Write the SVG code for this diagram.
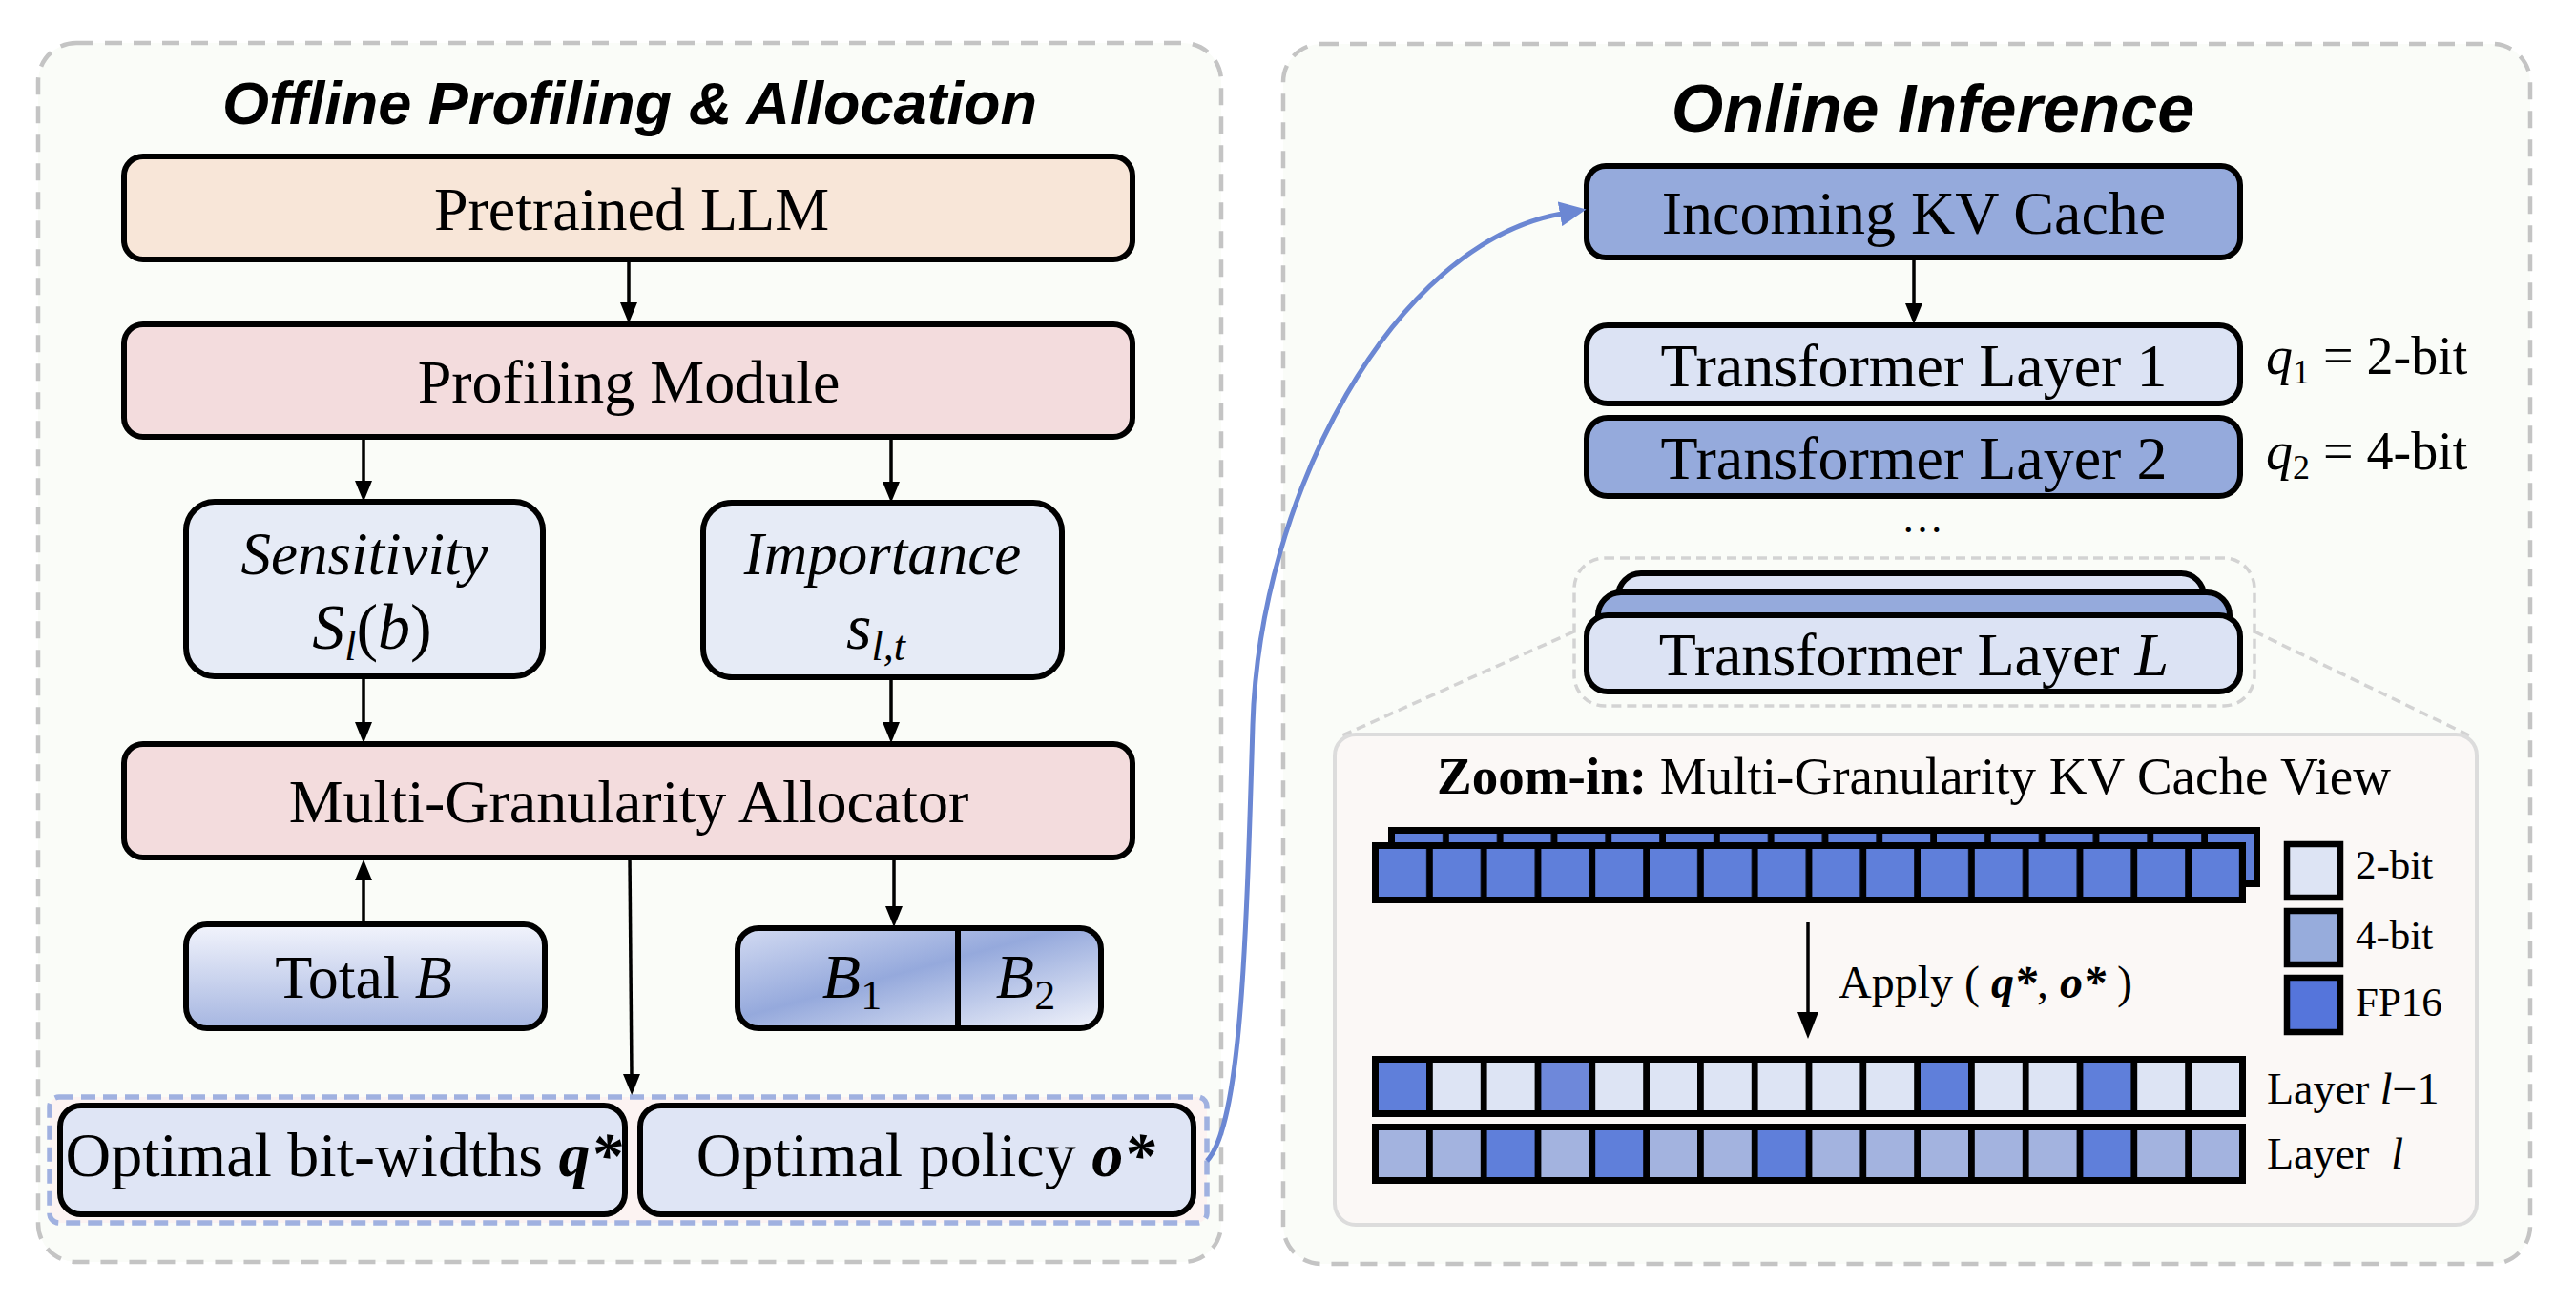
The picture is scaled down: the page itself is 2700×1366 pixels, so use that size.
<svg xmlns="http://www.w3.org/2000/svg" width="2700" height="1366" viewBox="0 0 2700 1366">
<style>
.panel{fill:#FAFCF8;stroke:#C4C4C4;stroke-width:4.5;stroke-dasharray:18 12}
.title{font-family:"Liberation Sans",Arial,sans-serif;font-weight:bold;font-style:italic;fill:#000;text-anchor:middle}
.box{stroke:#000;stroke-width:6}
.t{font-family:"Liberation Serif","Times New Roman",serif;fill:#000;text-anchor:middle}
.ts{font-family:"Liberation Serif","Times New Roman",serif;fill:#000}
.i{font-style:italic}
.bi{font-style:italic;font-weight:bold}
.conn{stroke:#000;stroke-width:3.5;fill:none}
.peach{fill:#F8E6D8}
.pink{fill:#F3DCDD}
.lb{fill:#E6EBF6}
.ob{fill:#DFE5F5}
.mid{fill:#95AADC}
.pale{fill:#DCE3F4}
.c2{fill:#DDE4F4}
.c4{fill:#A3B3DF}
.cf{fill:#5F7FDA}
</style>
<defs>
<marker id="ah" markerUnits="userSpaceOnUse" markerWidth="22" markerHeight="18" refX="2" refY="9" orient="auto">
<path d="M0,0 L22,9 L0,18 z" fill="#000"/>
</marker>
<marker id="ahBig" markerUnits="userSpaceOnUse" markerWidth="28" markerHeight="22" refX="2" refY="11" orient="auto">
<path d="M0,0 L28,11 L0,22 z" fill="#000"/>
</marker>
<marker id="ahBlue" markerUnits="userSpaceOnUse" markerWidth="28" markerHeight="26" refX="2" refY="13" orient="auto">
<path d="M0,0 L28,13 L0,26 z" fill="#6B87D3"/>
</marker>
<linearGradient id="gTotal" x1="0" y1="0" x2="0" y2="1">
<stop offset="0" stop-color="#F2F4FC"/>
<stop offset="1" stop-color="#A6B6E1"/>
</linearGradient>
<linearGradient id="gB" x1="0" y1="0" x2="1" y2="1">
<stop offset="0" stop-color="#D3DBF2"/>
<stop offset="0.45" stop-color="#95A9DC"/>
<stop offset="1" stop-color="#F2F4FB"/>
</linearGradient>
<pattern id="fp16row" x="1445" y="0" width="56.8" height="2000" patternUnits="userSpaceOnUse">
<rect x="0" y="0" width="56.8" height="2000" fill="#000"/>
<rect x="0" y="0" width="50" height="2000" fill="#5F7FDA"/>
</pattern>
<pattern id="fp16rowB" x="1462" y="0" width="56.8" height="2000" patternUnits="userSpaceOnUse">
<rect x="0" y="0" width="56.8" height="2000" fill="#000"/>
<rect x="0" y="0" width="50" height="2000" fill="#5F7FDA"/>
</pattern>
</defs>
<rect width="2700" height="1366" fill="#FFFFFF"/>

<g id="panel-offline">
<rect class="panel" x="40" y="45" width="1240" height="1278" rx="40"/>
<text class="title" x="660" y="130" font-size="63">Offline Profiling &amp; Allocation</text>
</g>

<g id="panel-online">
<rect class="panel" x="1345" y="46" width="1307" height="1279" rx="40"/>
<text class="title" x="2026" y="138" font-size="70">Online Inference</text>
</g>

<g id="node-pretrained">
<rect class="box peach" x="130" y="164" width="1057" height="108" rx="20"/>
<text class="t" x="662" y="241" font-size="64">Pretrained LLM</text>
</g>

<g id="node-profiling">
<rect class="box pink" x="130" y="340" width="1057" height="118" rx="20"/>
<text class="t" x="659" y="422" font-size="64">Profiling Module</text>
</g>

<g id="node-sensitivity">
<rect class="box lb" x="195" y="526" width="374" height="183" rx="30"/>
<text class="t i" x="382" y="602" font-size="63">Sensitivity</text>
<text class="t" x="390" y="680" font-size="68"><tspan class="i">S</tspan><tspan class="i" font-size="44" dy="12">l</tspan><tspan dy="-12">(</tspan><tspan class="i">b</tspan>)</text>
</g>

<g id="node-importance">
<rect class="box lb" x="737" y="527" width="376" height="183" rx="30"/>
<text class="t i" x="925" y="602" font-size="63">Importance</text>
<text class="t" x="918" y="680" font-size="68"><tspan class="i">s</tspan><tspan class="i" font-size="44" dy="12">l,t</tspan></text>
</g>

<g id="node-allocator">
<rect class="box pink" x="130" y="780" width="1057" height="119" rx="20"/>
<text class="t" x="659" y="862" font-size="64">Multi-Granularity Allocator</text>
</g>

<g id="node-totalB">
<rect class="box" fill="url(#gTotal)" x="195" y="969" width="376" height="109" rx="22"/>
<text class="t" x="381" y="1046" font-size="64">Total <tspan class="i">B</tspan></text>
</g>

<g id="node-B1B2">
<rect class="box" fill="url(#gB)" x="773" y="973" width="381" height="105" rx="22"/>
<line x1="1004" y1="973" x2="1004" y2="1078" stroke="#000" stroke-width="6"/>
<text class="t" x="893" y="1046" font-size="66"><tspan class="i">B</tspan><tspan font-size="44" dy="12">1</tspan></text>
<text class="t" x="1075" y="1046" font-size="66"><tspan class="i">B</tspan><tspan font-size="44" dy="12">2</tspan></text>
</g>

<g id="node-optimal-group">
<rect x="52" y="1150" width="1213" height="132" rx="10" fill="#FCF3F2" stroke="#A0B1E0" stroke-width="5.5" stroke-dasharray="15 8"/>
</g>

<g id="node-opt-bits">
<rect class="box ob" x="63" y="1159" width="592" height="114" rx="22"/>
<text class="t" x="360" y="1233" font-size="66">Optimal bit-widths <tspan class="bi">q*</tspan></text>
</g>

<g id="node-opt-policy">
<rect class="box ob" x="671" y="1159" width="580" height="114" rx="22"/>
<text class="t" x="970" y="1233" font-size="66">Optimal policy <tspan class="bi">o*</tspan></text>
</g>

<g id="node-incoming">
<rect class="box mid" x="1663" y="174" width="685" height="96" rx="20"/>
<text class="t" x="2006" y="245" font-size="64">Incoming KV Cache</text>
</g>

<g id="node-layer1">
<rect class="box pale" x="1663" y="341" width="685" height="82" rx="22"/>
<text class="t" x="2006" y="405" font-size="64">Transformer Layer 1</text>
<text class="ts" x="2375" y="392" font-size="56"><tspan class="i">q</tspan><tspan font-size="36" dy="10">1</tspan><tspan dy="-10"> = 2-bit</tspan></text>
</g>

<g id="node-layer2">
<rect class="box mid" x="1663" y="438" width="685" height="82" rx="22"/>
<text class="t" x="2006" y="502" font-size="64">Transformer Layer 2</text>
<text class="ts" x="2375" y="492" font-size="56"><tspan class="i">q</tspan><tspan font-size="36" dy="10">2</tspan><tspan dy="-10"> = 4-bit</tspan></text>
</g>

<g id="node-ellipsis">
<text class="t" x="2015" y="558" font-size="44">…</text>
</g>

<g id="node-layerL">
<rect x="1650" y="585" width="713" height="155" rx="32" fill="none" stroke="#D3D3D3" stroke-width="3.5" stroke-dasharray="10 6"/>
<rect class="box pale" x="1696" y="601" width="614" height="80" rx="24"/>
<rect class="box mid" x="1675" y="621" width="662" height="80" rx="24"/>
<rect class="box pale" x="1663" y="645" width="685" height="80" rx="22"/>
<text class="t" x="2006" y="708" font-size="64">Transformer Layer <tspan class="i">L</tspan></text>
</g>

<g id="zoom-lines">
<line x1="1650" y1="662" x2="1405" y2="772" stroke="#D3D3D3" stroke-width="3.5" stroke-dasharray="10 6"/>
<line x1="2363" y1="662" x2="2590" y2="772" stroke="#D3D3D3" stroke-width="3.5" stroke-dasharray="10 6"/>
</g>

<g id="node-zoomin">
<rect x="1399" y="770" width="1197" height="514" rx="22" fill="#FBF8F6" stroke="#DCDCDC" stroke-width="4"/>
<text class="t" x="2006" y="832" font-size="55"><tspan font-weight="bold">Zoom-in:</tspan> Multi-Granularity KV Cache View</text>
</g>

<g id="kv-input">
<rect x="1455" y="867" width="914" height="63" fill="#000"/>
<rect x="1462" y="874" width="900" height="49" fill="url(#fp16rowB)"/>
<rect x="1438" y="883" width="916" height="64" fill="#000"/>
<rect x="1445" y="890" width="902" height="50" fill="url(#fp16row)"/>
</g>

<g id="kv-layer-l-1">
<rect x="1438" y="1107" width="916" height="64" fill="#000"/>
<rect class="cf" x="1445" y="1114" width="50" height="50"/>
<rect class="c2" x="1501.8" y="1114" width="50" height="50"/>
<rect class="c2" x="1558.6" y="1114" width="50" height="50"/>
<rect fill="#6E88DA" x="1615.4" y="1114" width="50" height="50"/>
<rect class="c2" x="1672.2" y="1114" width="50" height="50"/>
<rect class="c2" x="1729" y="1114" width="50" height="50"/>
<rect class="c2" x="1785.8" y="1114" width="50" height="50"/>
<rect class="c2" x="1842.6" y="1114" width="50" height="50"/>
<rect class="c2" x="1899.4" y="1114" width="50" height="50"/>
<rect class="c2" x="1956.2" y="1114" width="50" height="50"/>
<rect class="cf" x="2013" y="1114" width="50" height="50"/>
<rect class="c2" x="2069.8" y="1114" width="50" height="50"/>
<rect class="c2" x="2126.6" y="1114" width="50" height="50"/>
<rect class="cf" x="2183.4" y="1114" width="50" height="50"/>
<rect class="c2" x="2240.2" y="1114" width="50" height="50"/>
<rect class="c2" x="2297" y="1114" width="50" height="50"/>
<text class="ts" x="2376" y="1157" font-size="46">Layer <tspan class="i">l</tspan>−1</text>
</g>

<g id="kv-layer-l">
<rect x="1438" y="1178" width="916" height="63" fill="#000"/>
<rect class="c4" x="1445" y="1185" width="50" height="49"/>
<rect class="c4" x="1501.8" y="1185" width="50" height="49"/>
<rect class="cf" x="1558.6" y="1185" width="50" height="49"/>
<rect class="c4" x="1615.4" y="1185" width="50" height="49"/>
<rect class="cf" x="1672.2" y="1185" width="50" height="49"/>
<rect class="c4" x="1729" y="1185" width="50" height="49"/>
<rect class="c4" x="1785.8" y="1185" width="50" height="49"/>
<rect class="cf" x="1842.6" y="1185" width="50" height="49"/>
<rect class="c4" x="1899.4" y="1185" width="50" height="49"/>
<rect class="c4" x="1956.2" y="1185" width="50" height="49"/>
<rect class="c4" x="2013" y="1185" width="50" height="49"/>
<rect class="c4" x="2069.8" y="1185" width="50" height="49"/>
<rect class="c4" x="2126.6" y="1185" width="50" height="49"/>
<rect class="cf" x="2183.4" y="1185" width="50" height="49"/>
<rect class="c4" x="2240.2" y="1185" width="50" height="49"/>
<rect class="c4" x="2297" y="1185" width="50" height="49"/>
<text class="ts" x="2376" y="1225" font-size="46" xml:space="preserve">Layer  <tspan class="i">l</tspan></text>
</g>

<g id="legend">
<rect x="2397" y="885" width="56" height="56" fill="#DDE4F4" stroke="#000" stroke-width="6.5"/>
<text class="ts" x="2469" y="921" font-size="43">2-bit</text>
<rect x="2397" y="955" width="56" height="56" fill="#97ACDC" stroke="#000" stroke-width="6.5"/>
<text class="ts" x="2469" y="995" font-size="43">4-bit</text>
<rect x="2397" y="1025" width="56" height="57" fill="#5575DB" stroke="#000" stroke-width="6.5"/>
<text class="ts" x="2469" y="1065" font-size="43">FP16</text>
</g>

<g id="apply-label">
<text class="ts" x="1927" y="1046" font-size="48">Apply ( <tspan class="bi">q*</tspan>, <tspan class="bi">o*</tspan> )</text>
</g>

<g id="connectors">
<line class="conn" x1="659" y1="272" x2="659" y2="319" marker-end="url(#ah)"/>
<line class="conn" x1="381" y1="458" x2="381" y2="506" marker-end="url(#ah)"/>
<line class="conn" x1="934" y1="458" x2="934" y2="507" marker-end="url(#ah)"/>
<line class="conn" x1="381" y1="710" x2="381" y2="759" marker-end="url(#ah)"/>
<line class="conn" x1="934" y1="710" x2="934" y2="759" marker-end="url(#ah)"/>
<line class="conn" x1="381" y1="969" x2="381" y2="921" marker-end="url(#ah)"/>
<line class="conn" x1="937" y1="902" x2="937" y2="952" marker-end="url(#ah)"/>
<line class="conn" x1="660" y1="899" x2="662" y2="1128" stroke-width="4.5" marker-end="url(#ah)"/>
<line class="conn" x1="2006" y1="270" x2="2006" y2="320" marker-end="url(#ah)"/>
<line class="conn" x1="1895" y1="967" x2="1895" y2="1063" stroke-width="5" marker-end="url(#ahBig)"/>
<path d="M1265,1217 C1300,1180 1306,1000 1313,760 C1320,520 1460,255 1637,224" fill="none" stroke="#6B87D3" stroke-width="5" marker-end="url(#ahBlue)"/>
</g>
</svg>
